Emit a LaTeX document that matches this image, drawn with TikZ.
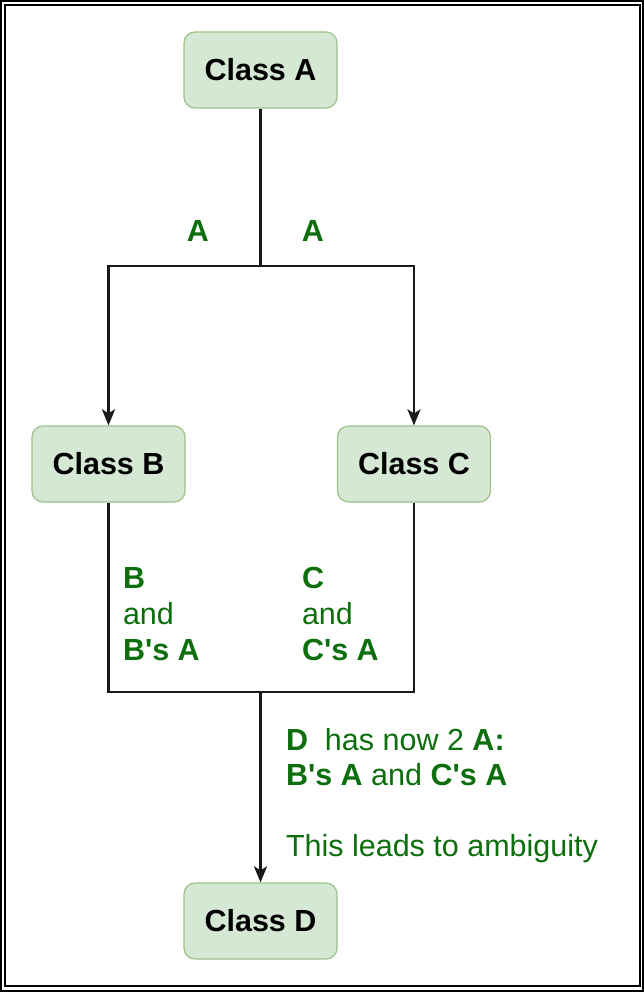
\documentclass[tikz,border=0pt]{standalone}
\usepackage{fontspec}
\setmainfont{Liberation Sans}
\newfontfamily\apfont{Liberation Sans}
\usetikzlibrary{arrows.meta}
\definecolor{boxfill}{HTML}{D5E8D4}
\definecolor{boxline}{HTML}{9CC28A}
\definecolor{lblgreen}{RGB}{12,110,12}
\newcommand{\ap}{{\apfont\char39}}
\tikzset{
  classbox/.style={draw=boxline, fill=boxfill, line width=1.2pt, rounded corners=11pt,
    minimum width=153pt, minimum height=76pt, inner sep=0pt,
    font=\fontsize{30.5}{36}\selectfont\bfseries, text=black},
  conn/.style={line width=2.8pt, draw=black!90},
  arr/.style={conn, -{Stealth[length=16pt,width=13pt,inset=4pt]}},
  lbl/.style={text=lblgreen, anchor=base west, inner sep=0pt, outer sep=0pt,
    font=\fontsize{30.5}{36}\selectfont, align=left},
}
\begin{document}
\begin{tikzpicture}[x=1pt,y=-1pt]
\useasboundingbox (0,0) rectangle (644,992);
% frames
\draw[line width=2pt] (1,1) rectangle (643,991);
\draw[line width=2pt] (5,5) rectangle (640,986);
% nodes
\node[classbox] (A) at (260.5,70) {Class A};
\node[classbox] (B) at (108.5,464) {Class B};
\node[classbox] (C) at (414,464) {Class C};
\node[classbox] (D) at (260.5,921) {Class D};
% junctions
\coordinate (jA) at (260.5,266);
\coordinate (jD) at (260.5,692);
% connectors
\draw[conn] (A.south) -- (jA);
\draw[arr] (jA) -| (B.north);
\draw[arr] (jA) -| (C.north);
\draw[conn] (B.south) |- (jD);
\draw[conn] (C.south) |- (jD);
\draw[arr] (jD) -- (D.north);
% labels
\node[lbl, anchor=base] (la1) at (198,241) {\bfseries A};
\node[lbl, anchor=base] (la2) at (313,241) {\bfseries A};
\node[lbl] (lb) at (123,660) {\bfseries B\\and\\\bfseries B\ap s A};
\node[lbl] (lc) at (302,660) {\bfseries C\\and\\\bfseries C\ap s A};
\node[lbl, font=\fontsize{30.5}{35}\selectfont] (ld) at (286,785) {\textbf{D}\ \ has now 2 \textbf{A:}\\\textbf{B\ap s A} and \textbf{C\ap s A}};
\node[lbl] (le) at (286,856) {This leads to ambiguity};
\end{tikzpicture}
\end{document}
